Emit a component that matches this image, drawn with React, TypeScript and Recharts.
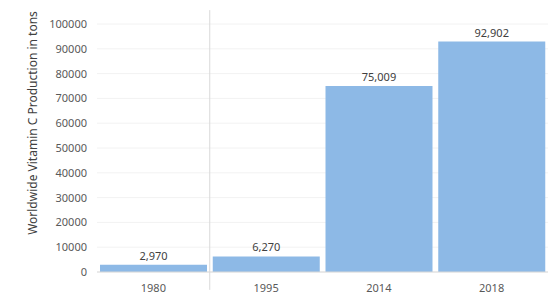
import { BarChart, Bar, XAxis, YAxis, CartesianGrid, LabelList, ReferenceLine, Label } from 'recharts';

const years = ['1980', '1995', '2014', '2018'];
const production = [2970, 6270, 75009, 92902];
const yTicks = [0, 10000, 20000, 30000, 40000, 50000, 60000, 70000, 80000, 90000, 100000];

const data = years.map((year, i) => ({ year, value: production[i] }));

const FONT = '"Noto Sans", "Open Sans", sans-serif';

export default function App() {
  return (
    <div style={{ position: 'absolute', left: 0, top: 0, width: 559, height: 298, background: '#fff', fontFamily: FONT }}>
      <BarChart
        width={559}
        height={298}
        data={data}
        margin={{ top: 24, right: 11, left: 0, bottom: 0 }}
        barCategoryGap={3}
      >
        <CartesianGrid vertical={false} stroke="#f2f2f2" />
        <XAxis
          dataKey="year"
          height={26}
          tickLine={false}
          axisLine={{ stroke: '#d9d9d9' }}
          tick={{ fontSize: 11, fill: '#595959', fontFamily: FONT }}
          tickMargin={6}
        />
        <YAxis
          width={97}
          domain={[0, 100000]}
          ticks={yTicks}
          interval={0}
          allowDataOverflow
          tickLine={false}
          axisLine={false}
          tickSize={0}
          tickMargin={10}
          tick={{ fontSize: 11, fill: '#595959', fontFamily: FONT }}
        >
          <Label
            content={() => (
              <text
                x={32}
                y={123}
                transform="rotate(-90 32 123)"
                textAnchor="middle"
                dominantBaseline="central"
                fontSize={12}
                fill="#404040"
                fontFamily={FONT}
              >
                Worldwide Vitamin C Production in tons
              </text>
            )}
          />
        </YAxis>
        <ReferenceLine
          segment={[{ x: '1980', y: -7200 }, { x: '1980', y: 105600 }]}
          position="end"
          stroke="#d9d9d9"
          ifOverflow="visible"
        />
        <Bar dataKey="value" fill="#8db9e6" isAnimationActive={false}>
          <LabelList
            dataKey="value"
            position="top"
            offset={5}
            formatter={(v: any) => Number(v).toLocaleString('en-US')}
            style={{ fontSize: 11, fill: '#404040', fontFamily: FONT }}
          />
        </Bar>
      </BarChart>
    </div>
  );
}
